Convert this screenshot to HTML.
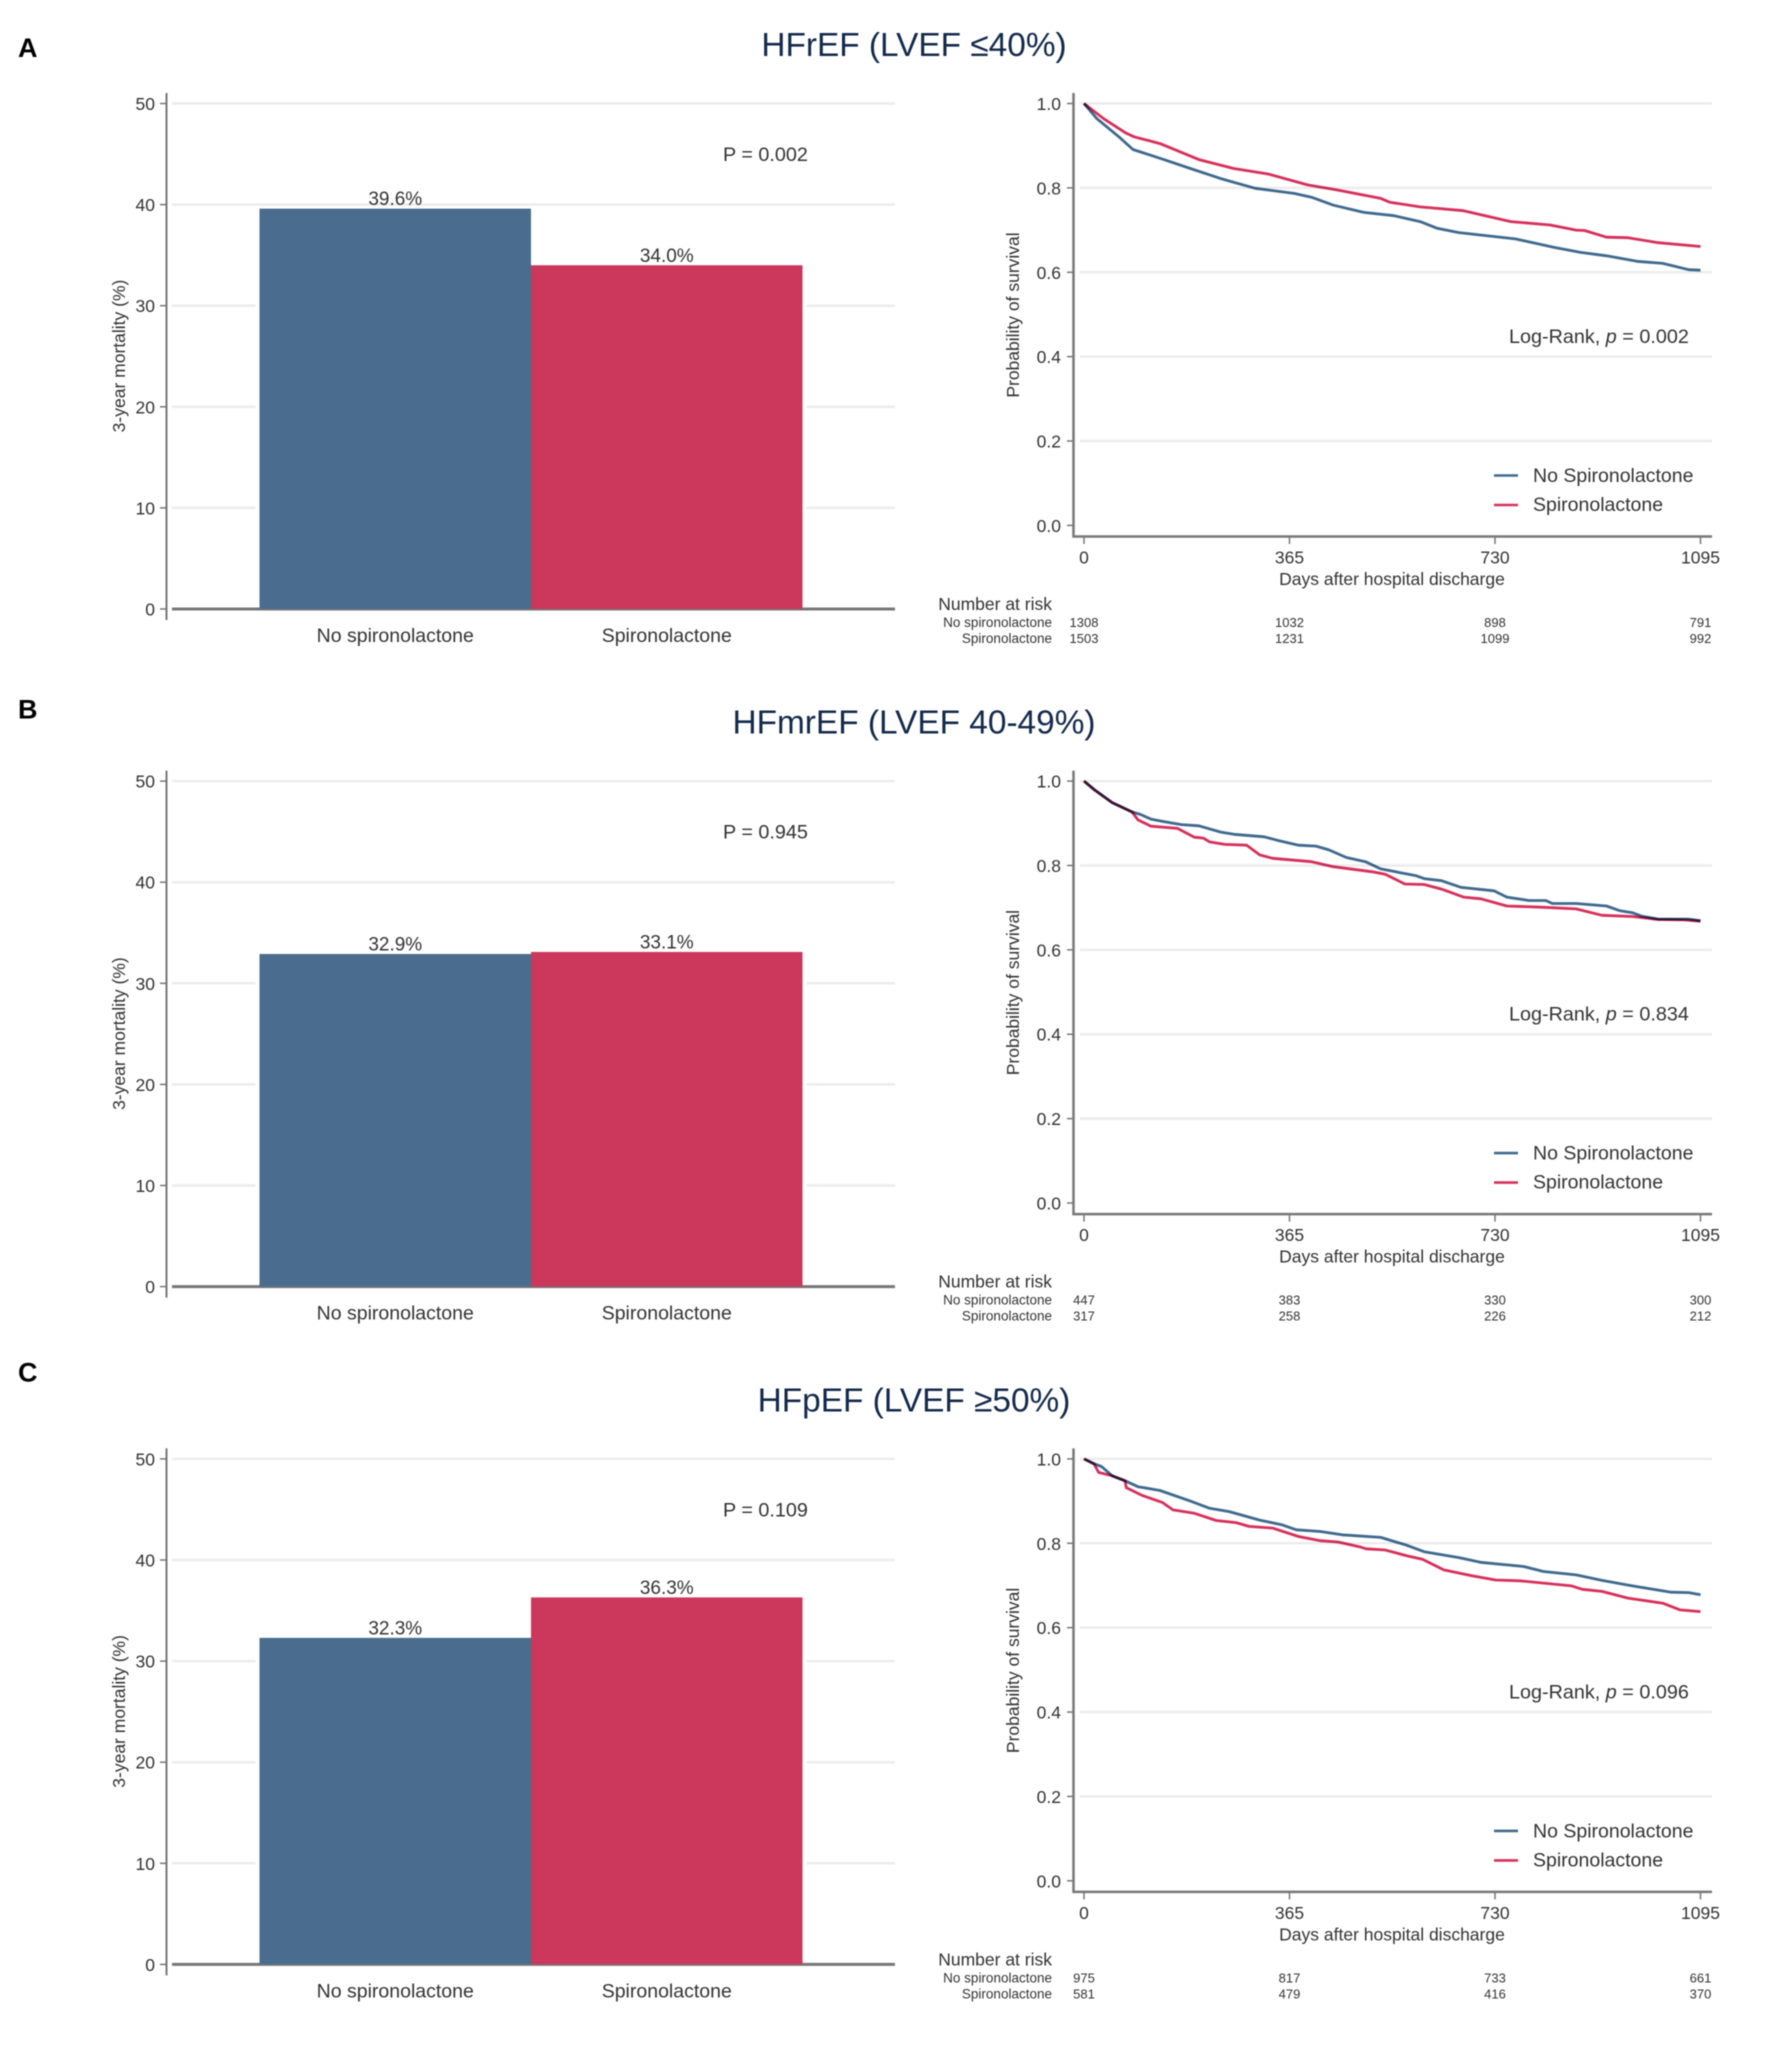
<!DOCTYPE html>
<html lang="en">
<head>
<meta charset="utf-8">
<title>Spironolactone mortality and survival by LVEF group</title>
<style>
html,body{margin:0;padding:0;background:#fff;}
svg{display:block;filter:blur(0.65px);}
text{font-family:"Liberation Sans",sans-serif;fill:#333;}
.title{font-size:33.4px;fill:#13294b;text-anchor:middle;}
.letter{font-size:27px;font-weight:bold;fill:#000;}
.p{font-size:19.8px;}
.tick{font-size:17.5px;}
.axis-title{font-size:17.5px;text-anchor:middle;}
.cat{font-size:19.5px;text-anchor:middle;}
.val{font-size:19px;text-anchor:middle;}
.legend{font-size:19.5px;}
.risk-h{font-size:17.5px;text-anchor:end;}
.risk-l{font-size:13.5px;text-anchor:end;}
.risk-n{font-size:13px;text-anchor:middle;}
.km-line{mix-blend-mode:multiply;}
</style>
</head>
<body>
<svg id="figure" xmlns="http://www.w3.org/2000/svg" width="1772" height="2054" viewBox="0 0 1772 2054">
  <rect x="0" y="0" width="1772" height="2054" fill="#fff"/>

  <g id="panel-a" transform="translate(0,0)">
    <text class="letter" x="18" y="57">A</text>
    <text class="title" x="914" y="56">HFrEF (LVEF ≤40%)</text>
    <text class="axis-title" transform="translate(125,356) rotate(-90)">3-year mortality (%)</text>
    <text class="p" x="723" y="161">P = 0.002</text>
    <text class="axis-title" transform="translate(1019,315) rotate(-90)">Probability of survival</text>
    <text class="axis-title" x="1392" y="585">Days after hospital discharge</text>
    <text class="p" x="1509" y="343">Log-Rank, <tspan font-style="italic">p</tspan> = 0.002</text>
    <text class="legend" x="1533" y="482">No Spironolactone</text>
    <text class="legend" x="1533" y="511">Spironolactone</text>
    <text class="risk-h" x="1052" y="610">Number at risk</text>
    <text class="risk-l" x="1052" y="627">No spironolactone</text>
    <text class="risk-l" x="1052" y="643">Spironolactone</text>
  </g>

  <g id="panel-b" transform="translate(0,677.6)">
    <text class="letter" x="18" y="41">B</text>
    <text class="title" x="914" y="56">HFmrEF (LVEF 40-49%)</text>
    <text class="axis-title" transform="translate(125,356) rotate(-90)">3-year mortality (%)</text>
    <text class="p" x="723" y="161">P = 0.945</text>
    <text class="axis-title" transform="translate(1019,315) rotate(-90)">Probability of survival</text>
    <text class="axis-title" x="1392" y="585">Days after hospital discharge</text>
    <text class="p" x="1509" y="343">Log-Rank, <tspan font-style="italic">p</tspan> = 0.834</text>
    <text class="legend" x="1533" y="482">No Spironolactone</text>
    <text class="legend" x="1533" y="511">Spironolactone</text>
    <text class="risk-h" x="1052" y="610">Number at risk</text>
    <text class="risk-l" x="1052" y="627">No spironolactone</text>
    <text class="risk-l" x="1052" y="643">Spironolactone</text>
  </g>

  <g id="panel-c" transform="translate(0,1355.4)">
    <text class="letter" x="18" y="26">C</text>
    <text class="title" x="914" y="56">HFpEF (LVEF ≥50%)</text>
    <text class="axis-title" transform="translate(125,356) rotate(-90)">3-year mortality (%)</text>
    <text class="p" x="723" y="161">P = 0.109</text>
    <text class="axis-title" transform="translate(1019,315) rotate(-90)">Probability of survival</text>
    <text class="axis-title" x="1392" y="585">Days after hospital discharge</text>
    <text class="p" x="1509" y="343">Log-Rank, <tspan font-style="italic">p</tspan> = 0.096</text>
    <text class="legend" x="1533" y="482">No Spironolactone</text>
    <text class="legend" x="1533" y="511">Spironolactone</text>
    <text class="risk-h" x="1052" y="610">Number at risk</text>
    <text class="risk-l" x="1052" y="627">No spironolactone</text>
    <text class="risk-l" x="1052" y="643">Spironolactone</text>
  </g>
</svg>

<script>
// ---- shared axis labels ----
const barCategories = ['No spironolactone', 'Spironolactone'];
const mortalityTicks = [0, 10, 20, 30, 40, 50];
const survivalTicks = [0, 0.2, 0.4, 0.6, 0.8, 1];
const dayTicks = [0, 365, 730, 1095];

// ---- panel A ----
const mortalityA = [39.6, 34.0];
const riskNoA = [1308, 1032, 898, 791];
const riskSpA = [1503, 1231, 1099, 992];
const daysNoA = [0,23,62,87,112,142,189,243,304,373,404,443,497,551,597,628,666,766,835,882,928,982,1028,1074,1095];
const survNoA = [1,.964,.921,.891,.880,.867,.846,.822,.799,.787,.778,.759,.742,.734,.720,.704,.694,.679,.659,.647,.639,.626,.621,.606,.605];
const daysSpA = [0,35,73,89,135,204,266,327,397,450,527,543,597,674,758,828,874,889,928,966,1020,1095];
const survSpA = [1,.964,.931,.921,.905,.867,.846,.833,.807,.795,.775,.766,.755,.746,.720,.712,.700,.699,.683,.682,.670,.661];

// ---- panel B ----
const mortalityB = [32.9, 33.1];
const riskNoB = [447, 383, 330, 300];
const riskSpB = [317, 258, 226, 212];
const daysNoB = [0,19,50,85,100,119,142,173,204,243,266,320,343,381,412,435,466,500,527,589,604,635,670,728,751,790,820,832,874,928,951,974,990,1020,1074,1095];
const survNoB = [1,.979,.949,.927,.921,.910,.904,.897,.894,.879,.874,.868,.860,.848,.846,.837,.819,.809,.792,.776,.769,.764,.748,.740,.725,.717,.717,.710,.710,.704,.693,.688,.680,.673,.673,.669];
const daysSpB = [0,19,50,85,96,119,166,196,212,223,250,289,312,335,404,443,512,535,570,604,635,674,705,751,812,874,920,974,1020,1066,1095];
const survSpB = [1,.979,.949,.927,.908,.893,.888,.867,.865,.856,.850,.848,.825,.817,.809,.797,.785,.779,.756,.755,.744,.725,.721,.704,.701,.697,.682,.679,.672,.671,.668];

// ---- panel C ----
const mortalityC = [32.3, 36.3];
const riskNoC = [975, 817, 733, 661];
const riskSpC = [581, 479, 416, 370];
const daysNoC = [0,19,31,50,73,96,135,189,223,258,312,351,377,420,458,527,574,604,666,704,781,816,874,920,974,1043,1074,1095];
const survNoC = [1,.988,.982,.960,.948,.934,.925,.900,.883,.875,.855,.844,.832,.828,.820,.814,.795,.780,.766,.755,.745,.733,.725,.712,.699,.684,.683,.678];
const daysSpC = [0,18,26,50,73,75,104,139,158,196,235,270,293,335,381,420,451,489,501,535,574,601,639,689,731,774,866,885,920,966,1028,1059,1095];
const survSpC = [1,.988,.968,.960,.948,.932,.913,.897,.879,.871,.854,.849,.840,.836,.816,.806,.803,.792,.787,.784,.770,.762,.737,.723,.713,.711,.699,.691,.686,.670,.658,.642,.638];

// ---- axis functions ----
function yMortality(v) { return 609 - v * (609 - 103.5) / 50; }
function xBarLeft(i) { return 259.5 + i * 271.5; }
function yKm(s) { return 525.4 - s * (525.4 - 103.5); }
function xKm(d) { return 1084 + d * (1700.5 - 1084) / 1095; }

const NS = 'http://www.w3.org/2000/svg';
const GRID = '#ececec', AXIS = '#777', BLUE = '#4a6d8f', RED = '#cc375c', LINE_BLUE = '#3f6a8e', LINE_RED = '#d7305c';

function make(parent, tag, props, txt) {
  const node = document.createElementNS(NS, tag);
  for (const k in props) node.setAttribute(k, props[k]);
  if (txt !== undefined) node.textContent = txt;
  parent.appendChild(node);
  return node;
}

function drawBars(g, mortality) {
  let el;
  mortalityTicks.forEach(function (t) {
    el = make(g, 'line', {x1: 172, x2: 895, y1: yMortality(t), y2: yMortality(t), stroke: t === 0 ? AXIS : GRID, 'stroke-width': t === 0 ? 3 : 2.5});
    
    
    el = make(g, 'line', {x1: 160, x2: 167, y1: yMortality(t), y2: yMortality(t), stroke: AXIS, 'stroke-width': 1.5});
    
    
    el = make(g, 'text', {class: 'tick', x: 155, y: yMortality(t) + 6.5, 'text-anchor': 'end'}, String(t));
    
    
  });
  mortality.forEach(function (v, i) {
    el = make(g, 'rect', {x: xBarLeft(i) - 4, y: yMortality(v) + 1, width: 279.5, height: yMortality(0) - yMortality(v) - 3, fill: '#fff'});
    
    
  });
  mortality.forEach(function (v, i) {
    const fill = i === 0 ? BLUE : RED;
    el = make(g, 'rect', {x: xBarLeft(i), y: yMortality(v), width: 271.5, height: yMortality(0) - yMortality(v), fill: fill});
    
    
    el = make(g, 'text', {class: 'val', x: xBarLeft(i) + 135.75, y: yMortality(v) - 3.5}, v.toFixed(1) + '%');
    
    
    el = make(g, 'text', {class: 'cat', x: xBarLeft(i) + 135.75, y: 642}, barCategories[i]);
    
    
  });
  el = make(g, 'line', {x1: 166.5, x2: 166.5, y1: 93, y2: 620, stroke: AXIS, 'stroke-width': 2});
  
  
}

function drawKm(g, daysNo, survNo, daysSp, survSp, riskNo, riskSp) {
  let el;
  survivalTicks.forEach(function (s) {
    if (s > 0) {
      el = make(g, 'line', {x1: 1080, x2: 1712, y1: yKm(s), y2: yKm(s), stroke: GRID, 'stroke-width': 2.5});
      
      
    }
    el = make(g, 'line', {x1: 1067, x2: 1074, y1: yKm(s), y2: yKm(s), stroke: AXIS, 'stroke-width': 1.5});
    
    
    el = make(g, 'text', {class: 'tick', x: 1061, y: yKm(s) + 6.5, 'text-anchor': 'end'}, s.toFixed(1));
    
    
  });
  el = make(g, 'line', {x1: 1073.5, x2: 1073.5, y1: 93, y2: 537.5, stroke: AXIS, 'stroke-width': 2.5});
  
  
  el = make(g, 'line', {x1: 1072.5, x2: 1712, y1: 536.5, y2: 536.5, stroke: AXIS, 'stroke-width': 2.5});
  
  
  dayTicks.forEach(function (d, i) {
    el = make(g, 'line', {x1: xKm(d), x2: xKm(d), y1: 536.5, y2: 544, stroke: AXIS, 'stroke-width': 1.5});
    
    
    el = make(g, 'text', {class: 'tick', x: xKm(d), y: 563.5, 'text-anchor': 'middle'}, String(d));
    
    
    el = make(g, 'text', {class: 'risk-n', x: xKm(d), y: 627}, String(riskNo[i]));
    
    
    el = make(g, 'text', {class: 'risk-n', x: xKm(d), y: 643}, String(riskSp[i]));
    
    
  });
  const ptsNo = daysNo.map(function (d, i) { return xKm(d).toFixed(1) + ',' + yKm(survNo[i]).toFixed(1); }).join(' ');
  const ptsSp = daysSp.map(function (d, i) { return xKm(d).toFixed(1) + ',' + yKm(survSp[i]).toFixed(1); }).join(' ');
  el = make(g, 'polyline', {class: 'km-line', points: ptsNo, fill: 'none', stroke: LINE_BLUE, 'stroke-width': 2.8, 'stroke-linejoin': 'round'});
  
  
  el = make(g, 'polyline', {class: 'km-line', points: ptsSp, fill: 'none', stroke: LINE_RED, 'stroke-width': 2.8, 'stroke-linejoin': 'round'});
  
  
  el = make(g, 'line', {x1: 1494, x2: 1518, y1: 475.5, y2: 475.5, stroke: LINE_BLUE, 'stroke-width': 2.6});
  
  
  el = make(g, 'line', {x1: 1494, x2: 1518, y1: 505, y2: 505, stroke: LINE_RED, 'stroke-width': 2.6});
  
  
}

const gA = document.getElementById('panel-a');
const gB = document.getElementById('panel-b');
const gC = document.getElementById('panel-c');
drawBars(gA, mortalityA);
drawBars(gB, mortalityB);
drawBars(gC, mortalityC);
drawKm(gA, daysNoA, survNoA, daysSpA, survSpA, riskNoA, riskSpA);
drawKm(gB, daysNoB, survNoB, daysSpB, survSpB, riskNoB, riskSpB);
drawKm(gC, daysNoC, survNoC, daysSpC, survSpC, riskNoC, riskSpC);
</script>
</body>
</html>
